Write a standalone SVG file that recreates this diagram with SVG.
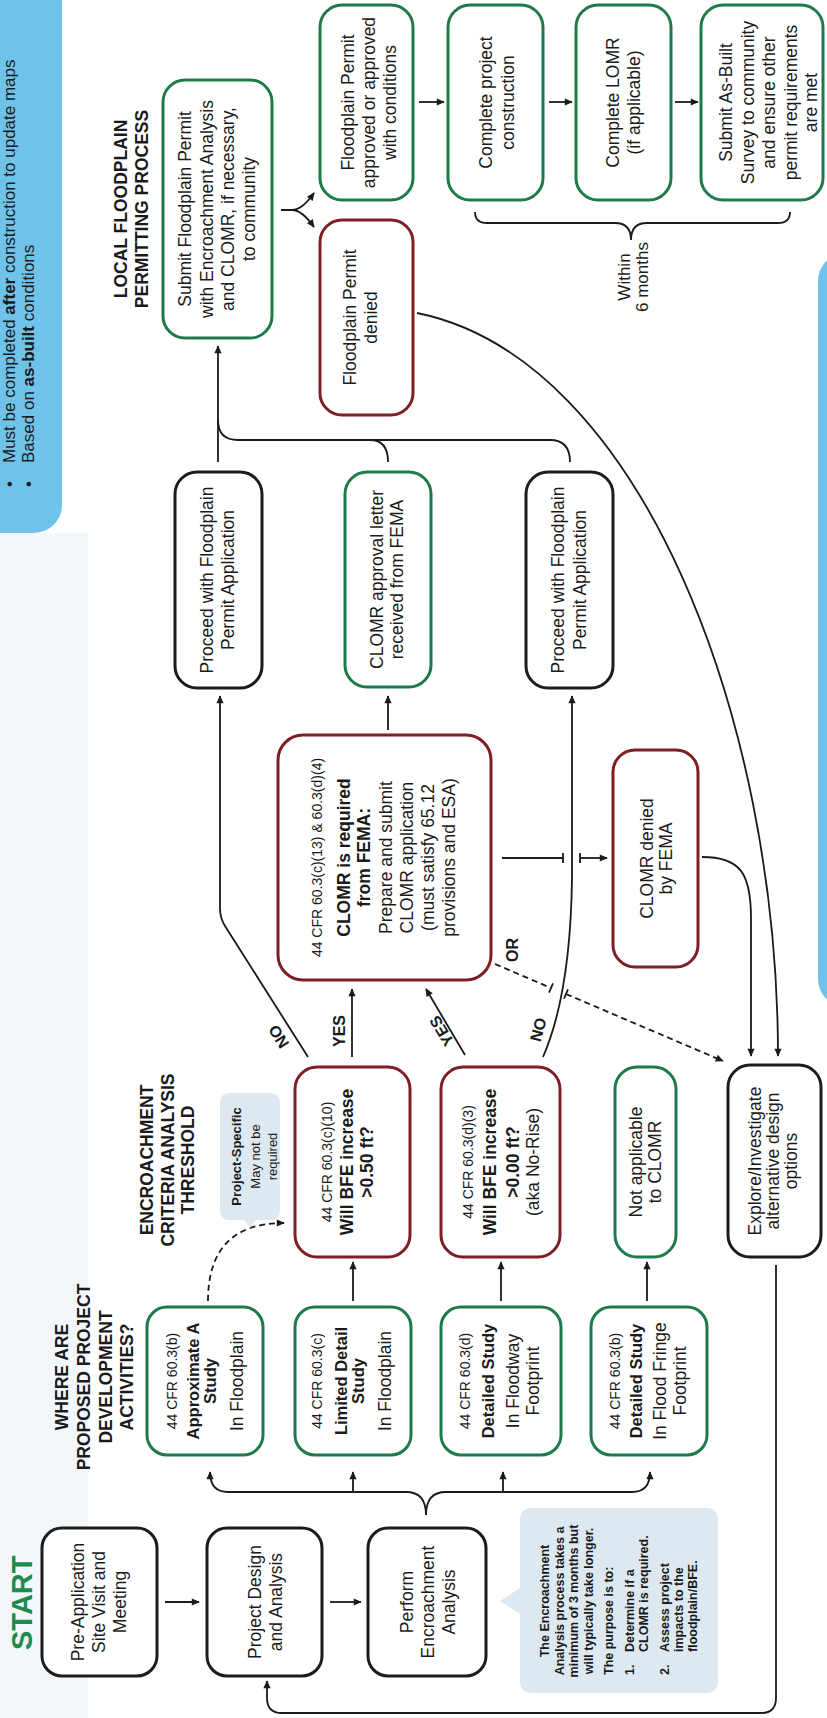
<svg xmlns="http://www.w3.org/2000/svg" width="827" height="1718" viewBox="0 0 827 1718">
<defs>
<marker id="ah" viewBox="0 0 10 10" refX="9" refY="5" markerUnits="userSpaceOnUse" markerWidth="9" markerHeight="8" orient="auto"><path d="M0,0.5 L10,5 L0,9.5 z" fill="#1a1a1a"/></marker>
</defs>
<style>
.bk{fill:#fff;stroke:#1c1c1c;stroke-width:3}
.gr{fill:#fff;stroke:#1f7a4a;stroke-width:3}
.rd{fill:#fff;stroke:#7e1f24;stroke-width:3}
text{font-family:"Liberation Sans",Arial,Helvetica,sans-serif;fill:#1a1a1a}
.t{font-size:17.5px;text-anchor:middle}
.s{font-size:14px;text-anchor:middle}
.b{font-size:16.5px;font-weight:bold;text-anchor:middle}
.b2{font-size:17.5px;font-weight:bold;text-anchor:middle}
.h{font-size:17.5px;font-weight:bold;text-anchor:middle}
.lb{font-size:16px;font-weight:bold;text-anchor:middle}
.n{font-size:12.5px;font-weight:bold}
.c{fill:none;stroke:#1a1a1a;stroke-width:1.8}
.d{fill:none;stroke:#1a1a1a;stroke-width:1.8;stroke-dasharray:6 4}
.blue{fill:#6fc3ea}
.note{fill:#dde8f0}
</style>
<rect width="827" height="1718" fill="#fff"/>
<g transform="translate(0,1718) rotate(-90)">
  <!-- backgrounds -->
  <rect x="0" y="0" width="1185" height="88" fill="#f1f7fb"/>
  <g id="note-maps">
    <rect class="blue" x="1185" y="-40" width="560" height="102" rx="28"/>
    <text x="1231" y="15" font-size="17">•</text>
    <text x="1255" y="15" font-size="17">Must be completed <tspan font-weight="bold">after</tspan> construction to update maps</text>
    <text x="1231" y="34" font-size="17">•</text>
    <text x="1255" y="34" font-size="17">Based on <tspan font-weight="bold">as-built</tspan> conditions</text>
  </g>
  <rect class="blue" x="711" y="818" width="754" height="60" rx="28"/>

  <!-- headings -->
  <text x="68" y="32" font-size="29" font-weight="bold" style="fill:#1e8a4c">START</text>
  <g id="heading-where">
    <text class="h" x="341" y="68">WHERE ARE</text>
    <text class="h" x="341" y="90">PROPOSED PROJECT</text>
    <text class="h" x="341" y="111.5">DEVELOPMENT</text>
    <text class="h" x="341" y="133">ACTIVITIES?</text>
  </g>
  <g id="heading-criteria">
    <text class="h" x="558" y="153">ENCROACHMENT</text>
    <text class="h" x="558" y="173.5">CRITERIA ANALYSIS</text>
    <text class="h" x="558" y="193.5">THRESHOLD</text>
  </g>
  <g id="heading-local">
    <text class="h" x="1509" y="127">LOCAL FLOODPLAIN</text>
    <text class="h" x="1509" y="148">PERMITTING PROCESS</text>
  </g>

  <!-- connectors -->
  <g id="connectors">
    <path class="c" d="M116,165 V199" marker-end="url(#ah)"/>
    <path class="c" d="M116,330 V361" marker-end="url(#ah)"/>
    <path class="c" d="M203,426 Q226,426 226,406 V228 Q226,210 246,210" marker-end="url(#ah)"/>
    <path class="c" d="M203,426 Q226,426 226,446 V632 Q226,650 246,650" marker-end="url(#ah)"/>
    <path class="c" d="M226,353 H246" marker-end="url(#ah)"/>
    <path class="c" d="M226,503 H246" marker-end="url(#ah)"/>
    <path class="d" d="M417,208 Q495,208 495,284" marker-end="url(#ah)"/>
    <path class="c" d="M417,353 H456" marker-end="url(#ah)"/>
    <path class="c" d="M417,501 H456" marker-end="url(#ah)"/>
    <path class="c" d="M417,647 H456" marker-end="url(#ah)"/>
    <path class="c" d="M661,352 H729" marker-end="url(#ah)"/>
    <path class="c" d="M661,308 L792,225 Q800,220 810,220 H1022" marker-end="url(#ah)"/>
    <path class="c" d="M663,465 L729,426" marker-end="url(#ah)"/>
    <path class="c" d="M661,543 C700,560 760,571 840,572 H1022" marker-end="url(#ah)"/>
    <path class="c" d="M988,388 H1022" marker-end="url(#ah)"/>
    <path class="c" d="M860,502 V563 M855,563 H865 M855,580 H865"/>
    <path class="c" d="M860,580 V607" marker-end="url(#ah)"/>
    <path class="d" d="M754,495 L730,551"/>
    <path class="c" d="M725.4,549 L734.6,553 M719.4,564 L728.6,568"/>
    <path class="d" d="M724,566 L657,723" marker-end="url(#ah)"/>
    <path class="c" d="M861,702 C861,740 845,751 800,751 H662" marker-end="url(#ah)"/>
    <path class="c" d="M1405,417 C1360,640 1000,778 662,778" marker-end="url(#ah)"/>
    <path class="c" d="M453,776 H20 Q5,776 5,761 V282 Q5,267 20,267 H37" marker-end="url(#ah)"/>
    <path class="c" d="M1256,218 H1372" marker-end="url(#ah)"/>
    <path class="c" d="M1256,388 Q1278,388 1278,370"/>
    <path class="c" d="M1256,570 Q1278,570 1278,550 V238 Q1278,218 1298,218"/>
    <path class="c" d="M1508,281 V292 Q1508,302 1525,314" marker-end="url(#ah)"/>
    <path class="c" d="M1508,292 Q1508,302 1491,314" marker-end="url(#ah)"/>
    <path class="c" d="M1616,419 V444" marker-end="url(#ah)"/>
    <path class="c" d="M1616,549 V572" marker-end="url(#ah)"/>
    <path class="c" d="M1616,675 V698" marker-end="url(#ah)"/>
    <path class="c" d="M1506,475 Q1495,475 1495,487 V615 Q1495,631 1478,631 Q1495,631 1495,647 V778 Q1495,790 1506,790"/>
    <text x="1441" y="630" font-size="17" text-anchor="middle">Within</text>
    <text x="1441" y="648" font-size="17" text-anchor="middle">6 months</text>
    <text class="lb" transform="translate(684.5,283.5) rotate(-32)">NO</text>
    <text class="lb" x="687" y="345">YES</text>
    <text class="lb" transform="translate(690,446.5) rotate(-31)">YES</text>
    <text class="lb" transform="translate(687,543.5) rotate(15)">NO</text>
    <text class="lb" x="768" y="518">OR</text>
  </g>

  <!-- nodes -->
  <g id="preapp"><rect class="bk" x="42" y="42" width="148" height="115" rx="20"/>
    <text class="t" x="116" y="84">Pre-Application</text><text class="t" x="116" y="105">Site Visit and</text><text class="t" x="116" y="126">Meeting</text></g>
  <g id="design"><rect class="bk" x="42" y="207" width="148" height="115" rx="20"/>
    <text class="t" x="116" y="260.5">Project Design</text><text class="t" x="116" y="281.5">and Analysis</text></g>
  <g id="perform"><rect class="bk" x="42" y="368" width="148" height="118" rx="20"/>
    <text class="t" x="116" y="412.5">Perform</text><text class="t" x="116" y="433.5">Encroachment</text><text class="t" x="116" y="454.5">Analysis</text></g>
  <g id="note-encroachment">
    <path class="note" d="M37,520 H104 L117,500 L130,520 H198 Q210,520 210,532 V706 Q210,718 198,718 H37 Q25,718 25,706 V532 Q25,520 37,520 Z"/>
    <text class="n" x="117" y="549" text-anchor="middle">The Encroachment</text>
    <text class="n" x="117" y="563.5" text-anchor="middle">Analysis process takes a</text>
    <text class="n" x="117" y="578" text-anchor="middle">minimum of 3 months but</text>
    <text class="n" x="117" y="592.5" text-anchor="middle">will typically take longer.</text>
    <text class="n" x="43" y="613">The purpose is to:</text>
    <text class="n" x="43" y="634">1.</text><text class="n" x="66" y="634">Determine if a</text>
    <text class="n" x="66" y="648">CLOMR is required.</text>
    <text class="n" x="43" y="669">2.</text><text class="n" x="66" y="669">Assess project</text>
    <text class="n" x="66" y="683">impacts to the</text>
    <text class="n" x="66" y="697">floodplain/BFE.</text>
  </g>

  <g id="approx"><rect class="gr" x="263" y="147" width="148" height="116" rx="20"/>
    <text class="s" x="337" y="177">44 CFR 60.3(b)</text><text class="b" x="337" y="199">Approximate A</text><text class="b" x="337" y="216">Study</text><text class="t" x="337" y="243">In Floodplain</text></g>
  <g id="limited"><rect class="gr" x="263" y="295" width="148" height="116" rx="20"/>
    <text class="s" x="337" y="322">44 CFR 60.3(c)</text><text class="b" x="337" y="347">Limited Detail</text><text class="b" x="337" y="364">Study</text><text class="t" x="337" y="391">In Floodplain</text></g>
  <g id="floodway"><rect class="gr" x="263" y="441" width="148" height="120" rx="20"/>
    <text class="s" x="337" y="470">44 CFR 60.3(d)</text><text class="b" x="337" y="494">Detailed Study</text><text class="t" x="337" y="518.5">In Floodway</text><text class="t" x="337" y="538.5">Footprint</text></g>
  <g id="fringe"><rect class="gr" x="263" y="591" width="148" height="116" rx="20"/>
    <text class="s" x="337" y="620">44 CFR 60.3(b)</text><text class="b" x="337" y="642">Detailed Study</text><text class="t" x="337" y="665.5">In Flood Fringe</text><text class="t" x="337" y="685.5">Footprint</text></g>

  <g id="project-specific">
    <path class="note" d="M508,220 H615 Q625,220 625,230 V270 Q625,280 615,280 H508 Q498,280 498,270 V256 L490,250 L498,244 V230 Q498,220 508,220 Z"/>
    <text x="561.5" y="241" font-size="13" font-weight="bold" text-anchor="middle">Project-Specific</text>
    <text x="561.5" y="260" font-size="13" text-anchor="middle">May not be</text>
    <text x="561.5" y="277" font-size="13" text-anchor="middle">required</text>
  </g>

  <g id="bfe050"><rect class="rd" x="461" y="295" width="190" height="115" rx="22"/>
    <text class="s" x="556" y="332">44 CFR 60.3(c)(10)</text><text class="b2" x="556" y="352.5">Will BFE increase</text><text class="b2" x="556" y="372.5">&gt;0.50 ft?</text></g>
  <g id="bfe000"><rect class="rd" x="461" y="441" width="190" height="119" rx="22"/>
    <text class="s" x="556" y="473">44 CFR 60.3(d)(3)</text><text class="b2" x="556" y="495.5">Will BFE increase</text><text class="b2" x="556" y="518.5">&gt;0.00 ft?</text><text class="t" x="556" y="539">(aka No-Rise)</text></g>
  <g id="notapp"><rect class="gr" x="461" y="615" width="190" height="61" rx="22"/>
    <text class="t" x="556" y="642">Not applicable</text><text class="t" x="556" y="660.5">to CLOMR</text></g>
  <g id="explore"><rect class="bk" x="461" y="728" width="192" height="93" rx="22"/>
    <text class="t" x="557" y="760.5">Explore/Investigate</text><text class="t" x="557" y="778.5">alternative design</text><text class="t" x="557" y="797">options</text></g>

  <g id="clomr-required"><rect class="rd" x="738" y="278" width="245" height="213" rx="25"/>
    <text class="s" x="860.5" y="322">44 CFR 60.3(c)(13) &amp; 60.3(d)(4)</text>
    <text class="b2" x="860.5" y="350">CLOMR is required</text>
    <text class="b2" x="860.5" y="370">from FEMA:</text>
    <text class="t" x="860.5" y="392">Prepare and submit</text>
    <text class="t" x="860.5" y="413">CLOMR application</text>
    <text class="t" x="860.5" y="434">(must satisfy 65.12</text>
    <text class="t" x="860.5" y="455">provisions and ESA)</text></g>
  <g id="clomr-denied"><rect class="rd" x="751" y="613" width="217" height="85" rx="22"/>
    <text class="t" x="859.5" y="652.5">CLOMR denied</text><text class="t" x="859.5" y="672">by FEMA</text></g>

  <g id="proceed1"><rect class="bk" x="1030" y="175" width="216" height="87" rx="22"/>
    <text class="t" x="1138" y="212.5">Proceed with Floodplain</text><text class="t" x="1138" y="234">Permit Application</text></g>
  <g id="clomr-approval"><rect class="gr" x="1031" y="345" width="215" height="86" rx="22"/>
    <text class="t" x="1138.5" y="382.5">CLOMR approval letter</text><text class="t" x="1138.5" y="403">received from FEMA</text></g>
  <g id="proceed2"><rect class="bk" x="1030" y="526" width="216" height="87" rx="22"/>
    <text class="t" x="1138" y="564">Proceed with Floodplain</text><text class="t" x="1138" y="585.5">Permit Application</text></g>

  <g id="submit"><rect class="gr" x="1380" y="163" width="258" height="109" rx="22"/>
    <text class="t" x="1509" y="191">Submit Floodplain Permit</text><text class="t" x="1509" y="212.5">with Encroachment Analysis</text><text class="t" x="1509" y="234">and CLOMR, if necessary,</text><text class="t" x="1509" y="255">to community</text></g>
  <g id="permit-denied"><rect class="rd" x="1303" y="320" width="195" height="93" rx="22"/>
    <text class="t" x="1400.5" y="356">Floodplain Permit</text><text class="t" x="1400.5" y="377">denied</text></g>
  <g id="permit-approved"><rect class="gr" x="1518" y="320" width="195" height="93" rx="22"/>
    <text class="t" x="1615.5" y="354">Floodplain Permit</text><text class="t" x="1615.5" y="375">approved or approved</text><text class="t" x="1615.5" y="396">with conditions</text></g>
  <g id="construction"><rect class="gr" x="1518" y="448" width="195" height="95" rx="22"/>
    <text class="t" x="1615.5" y="492">Complete project</text><text class="t" x="1615.5" y="513.5">construction</text></g>
  <g id="lomr"><rect class="gr" x="1518" y="576" width="195" height="95" rx="22"/>
    <text class="t" x="1615.5" y="619">Complete LOMR</text><text class="t" x="1615.5" y="640">(if applicable)</text></g>
  <g id="asbuilt"><rect class="gr" x="1518" y="701" width="195" height="122" rx="22"/>
    <text class="t" x="1615.5" y="732">Submit As-Built</text><text class="t" x="1615.5" y="753.5">Survey to community</text><text class="t" x="1615.5" y="775">and ensure other</text><text class="t" x="1615.5" y="796.5">permit requirements</text><text class="t" x="1615.5" y="817">are met</text></g>
</g>
</svg>
